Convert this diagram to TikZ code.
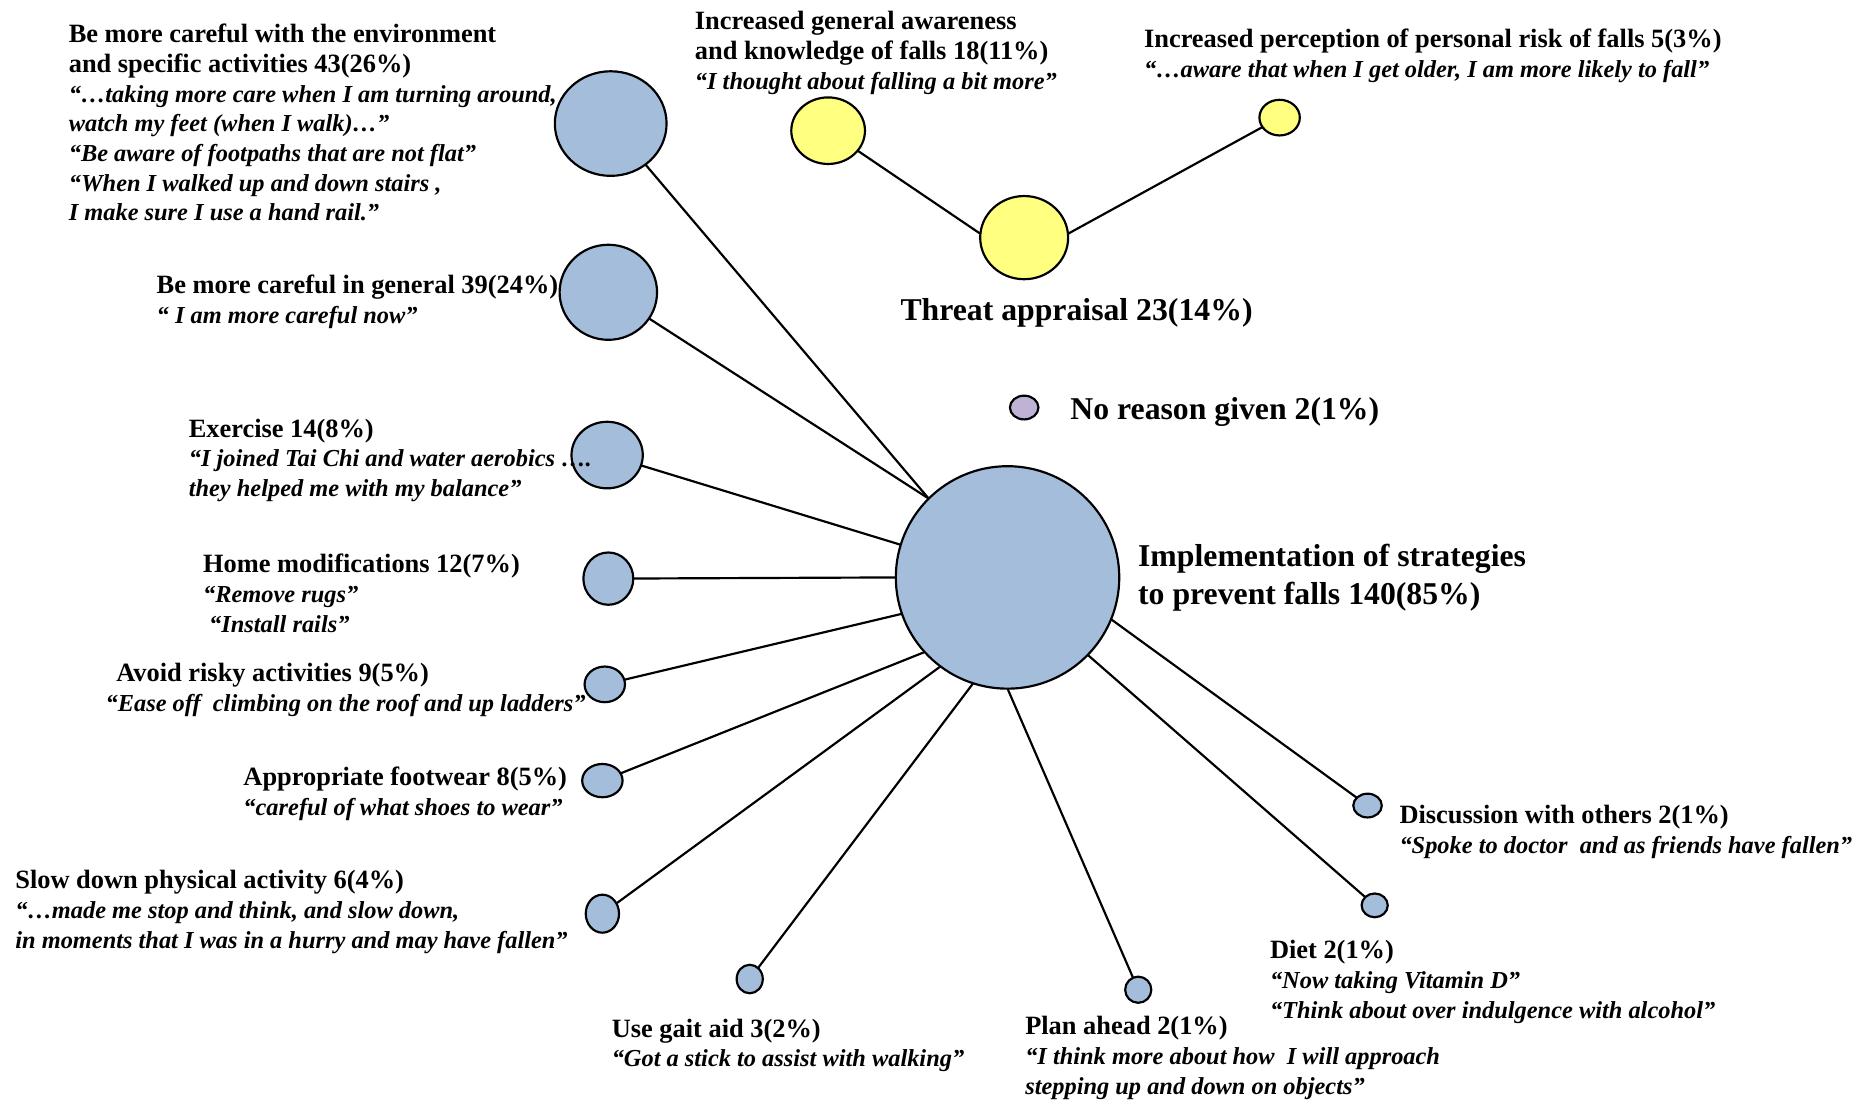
\documentclass[tikz,border=0pt]{standalone}
\usepackage{fontspec}
\setmainfont{Liberation Serif}
\usetikzlibrary{shapes.geometric}
\definecolor{nodeblue}{RGB}{164,189,219}
\definecolor{nodeyellow}{RGB}{255,255,128}
\definecolor{nodepurple}{RGB}{191,179,213}
\newcommand{\quo}{\fontsize{14.6}{17.8}\selectfont\itshape}
\begin{document}
\begin{tikzpicture}[x=0.025cm, y=-0.025cm, line width=1.3pt,
    main/.style = {draw, ellipse, fill=nodeblue, inner sep=0pt, outer sep=0pt},
    threat/.style = {draw, ellipse, fill=nodeyellow, inner sep=0pt, outer sep=0pt},
    txt/.style = {anchor=base west, align=left, inner sep=0pt,
        font=\fontsize{15.8}{17.8}\selectfont\bfseries},
    big/.style = {anchor=base west, align=left, inner sep=0pt,
        font=\fontsize{19}{22.8}\selectfont\bfseries}]
    \useasboundingbox (0,0) rectangle (1568,926);

    % circles
    \node[main, minimum width=4.7cm, minimum height=4.68cm] (0) at (848,486) {};
    \node[main, minimum width=2.35cm, minimum height=2.2cm] (1) at (514,104) {};
    \node[main, minimum width=2.05cm, minimum height=2cm] (2) at (512,246) {};
    \node[main, minimum width=1.5cm, minimum height=1.4cm] (3) at (511,383) {};
    \node[main, minimum width=1.05cm, minimum height=1.1cm] (4) at (512,487) {};
    \node[main, minimum width=0.85cm, minimum height=0.75cm] (5) at (509,576) {};
    \node[main, minimum width=0.85cm, minimum height=0.7cm] (6) at (507,657) {};
    \node[main, minimum width=0.7cm, minimum height=0.8cm] (7) at (507,769) {};
    \node[main, minimum width=0.55cm, minimum height=0.6cm] (8) at (631,824) {};
    \node[main, minimum width=0.55cm, minimum height=0.55cm] (9) at (958,833) {};
    \node[main, minimum width=0.55cm, minimum height=0.5cm] (10) at (1157,762) {};
    \node[main, minimum width=0.6cm, minimum height=0.5cm] (11) at (1151,678) {};
    \node[threat, minimum width=1.85cm, minimum height=1.75cm] (12) at (862,200) {};
    \node[threat, minimum width=1.55cm, minimum height=1.4cm] (13) at (697,110) {};
    \node[threat, minimum width=0.85cm, minimum height=0.75cm] (14) at (1077,99) {};
    \node[main, fill=nodepurple, minimum width=0.6cm, minimum height=0.5cm] (15) at (862,343) {};

    \draw (1) -- (0.135);
    \draw (2) -- (0.135);
    \draw (3) -- (0.163);
    \draw (4) -- (0.180);
    \draw (5) -- (0.199);
    \draw (6) -- (0.222);
    \draw (7) -- (0.233);
    \draw (8) -- (0.252);
    \draw (9) -- (0.270);
    \draw (10) -- (0.316);
    \draw (11) -- (0.338);
    \draw (13) -- (12.175);
    \draw (12.5) -- (14);

    % labels
    \node[txt] (t1) at (57,186) {Be more careful with the environment\\
        and specific activities 43(26\%)\\
        \quo “…taking more care when I am turning around,\\
        \quo watch my feet (when I walk)…”\\
        \quo “Be aware of footpaths that are not flat”\\
        \quo “When I walked up and down stairs ,\\
        \quo I make sure I use a hand rail.”};
    \node[txt] (t2) at (131,272) {Be more careful in general 39(24\%)\\
        \quo “ I am more careful now”};
    \node[txt] (t3) at (158,418) {Exercise 14(8\%)\\
        \quo “I joined Tai Chi and water aerobics ….\\
        \quo they helped me with my balance”};
    \node[txt] (t4) at (170,532) {Home modifications 12(7\%)\\
        \quo “Remove rugs”\\
        \quo \ “Install rails”};
    \node[txt] (t5) at (97,599) {Avoid risky activities 9(5\%)\\
        \hspace*{-0.225cm}\quo “Ease off \ climbing on the roof and up ladders”};
    \node[txt] (t6) at (204,686) {Appropriate footwear 8(5\%)\\
        \quo “careful of what shoes to wear”};
    \node[txt] (t7) at (12,798) {Slow down physical activity 6(4\%)\\
        \quo “…made me stop and think, and slow down,\\
        \quo in moments that I was in a hurry and may have fallen”};
    \node[txt] (t8) at (514,898) {Use gait aid 3(2\%)\\
        \quo “Got a stick to assist with walking”};
    \node[txt] (t9) at (862,921) {Plan ahead 2(1\%)\\
        \quo “I think more about how \ I will approach\\
        \quo stepping up and down on objects”};
    \node[txt] (t10) at (1068,857) {Diet 2(1\%)\\
        \quo “Now taking Vitamin D”\\
        \quo “Think about over indulgence with alcohol”};
    \node[txt] (t11) at (1177,718) {Discussion with others 2(1\%)\\
        \quo “Spoke to doctor \ and as friends have fallen”};
    \node[txt] (t13) at (584,75) {Increased general awareness\\
        and knowledge of falls 18(11\%)\\
        \quo “I thought about falling a bit more”};
    \node[txt] (t14) at (962,65) {Increased perception of personal risk of falls 5(3\%)\\
        \quo “…aware that when I get older, I am more likely to fall”};
    \node[big] (t12) at (757,270) {Threat appraisal 23(14\%)};
    \node[big] (t15) at (900,353) {No reason given 2(1\%)};
    \node[big] (t0) at (957,509) {Implementation of strategies\\to prevent falls 140(85\%)};
\end{tikzpicture}
\end{document}
